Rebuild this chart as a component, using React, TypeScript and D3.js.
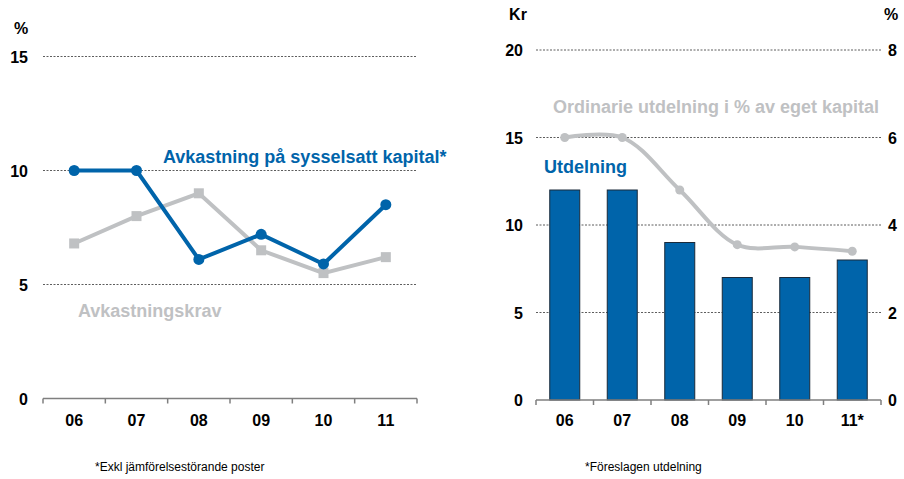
import React from 'react';
import * as d3 from 'd3';

// left chart
const years = ['06', '07', '08', '09', '10', '11'];
const avkastning = [10, 10, 6.1, 7.2, 5.9, 8.5];
const avkastningskrav = [6.8, 8.0, 9.0, 6.5, 5.5, 6.2];
const leftTicks = [0, 5, 10, 15];

// right chart
const yearsRight = ['06', '07', '08', '09', '10', '11*'];
const utdelning = [12, 12, 9, 7, 7, 8];
const ordinarieAndel = [6.0, 6.0, 4.8, 3.55, 3.5, 3.4];
const krTicks = [0, 5, 10, 15, 20];
const pctTicks = [0, 2, 4, 6, 8];

const BLUE = '#0064AA';
const GRAY = '#BFC1C3';
const FONT = '"Liberation Sans", Arial, sans-serif';
const TICK = 16;
const LABEL = 18;

function LeftChart() {
  const x = d3.scaleBand<string>().domain(years).range([43, 417]);
  const y = d3.scaleLinear().domain([0, 15]).range([398.5, 56.5]);
  const cx = (d: string) => (x(d) ?? 0) + x.bandwidth() / 2;
  const line = d3.line<number>()
    .x((_, i) => cx(years[i]))
    .y(d => y(d));
  const edges = years.map(d => x(d) ?? 0).concat([417]);

  return (
    <g>
      <text x={21} y={34} fontSize={TICK} fontWeight="bold" textAnchor="middle">%</text>
      {leftTicks.map(t => (
        <g key={t}>
          {t > 0 && (
            <line x1={43} x2={417} y1={y(t)} y2={y(t)} stroke="#333" strokeWidth={0.8} strokeDasharray="2,1.5" />
          )}
          <text x={28} y={y(t) + 6} fontSize={TICK} fontWeight="bold" textAnchor="end">{t}</text>
        </g>
      ))}
      <line x1={43} x2={417} y1={y(0)} y2={y(0)} stroke="#7f7f7f" strokeWidth={1.5} />
      {edges.map((e, i) => (
        <line key={i} x1={e} x2={e} y1={y(0)} y2={y(0) + 5} stroke="#7f7f7f" strokeWidth={1.5} />
      ))}
      {years.map(d => (
        <text key={d} x={cx(d)} y={426} fontSize={TICK} fontWeight="bold" textAnchor="middle">{d}</text>
      ))}

      <path d={line(avkastningskrav) ?? ''} fill="none" stroke={GRAY} strokeWidth={4} />
      {avkastningskrav.map((v, i) => (
        <rect key={i} x={cx(years[i]) - 5} y={y(v) - 5} width={10} height={10} fill={GRAY} />
      ))}
      <path d={line(avkastning) ?? ''} fill="none" stroke={BLUE} strokeWidth={4} />
      {avkastning.map((v, i) => (
        <circle key={i} cx={cx(years[i])} cy={y(v)} r={5.5} fill={BLUE} />
      ))}

      <text x={163} y={163} fontSize={LABEL} fontWeight="bold" fill={BLUE}>Avkastning på sysselsatt kapital*</text>
      <text x={78} y={317} fontSize={LABEL} fontWeight="bold" fill={GRAY}>Avkastningskrav</text>
      <text x={95} y={471} fontSize={12}>*Exkl jämförelsestörande poster</text>
    </g>
  );
}

function RightChart() {
  const x = d3.scaleBand<string>().domain(yearsRight).range([536, 881]);
  const yKr = d3.scaleLinear().domain([0, 20]).range([400, 50]);
  const yPct = d3.scaleLinear().domain([0, 8]).range([400, 50]);
  const cx = (d: string) => (x(d) ?? 0) + x.bandwidth() / 2;
  const barW = 30;
  const curve = d3.line<number>()
    .x((_, i) => cx(yearsRight[i]))
    .y(d => yPct(d))
    .curve(d3.curveCatmullRom.alpha(0.5));
  const edges = yearsRight.map(d => x(d) ?? 0).concat([881]);

  return (
    <g>
      <text x={518} y={20} fontSize={TICK} fontWeight="bold" textAnchor="middle">Kr</text>
      <text x={891} y={20} fontSize={TICK} fontWeight="bold" textAnchor="middle">%</text>
      {krTicks.map(t => (
        <g key={t}>
          {t > 0 && (
            <line x1={536} x2={881} y1={yKr(t)} y2={yKr(t)} stroke="#333" strokeWidth={0.8} strokeDasharray="2,1.5" />
          )}
          <text x={523} y={yKr(t) + 6} fontSize={TICK} fontWeight="bold" textAnchor="end">{t}</text>
        </g>
      ))}
      {pctTicks.map(t => (
        <text key={t} x={888} y={yPct(t) + 6} fontSize={TICK} fontWeight="bold">{t}</text>
      ))}
      {utdelning.map((v, i) => (
        <rect key={i} x={cx(yearsRight[i]) - barW / 2} y={yKr(v)} width={barW} height={yKr(0) - yKr(v)}
          fill={BLUE} stroke="#1a2a3a" strokeWidth={1} />
      ))}
      <line x1={536} x2={881} y1={yKr(0)} y2={yKr(0)} stroke="#7f7f7f" strokeWidth={1.5} />
      {edges.map((e, i) => (
        <line key={i} x1={e} x2={e} y1={yKr(0)} y2={yKr(0) + 5} stroke="#7f7f7f" strokeWidth={1.5} />
      ))}
      {yearsRight.map(d => (
        <text key={d} x={cx(d)} y={426} fontSize={TICK} fontWeight="bold" textAnchor="middle">{d}</text>
      ))}

      <path d={curve(ordinarieAndel) ?? ''} fill="none" stroke={GRAY} strokeWidth={4} />
      {ordinarieAndel.map((v, i) => (
        <circle key={i} cx={cx(yearsRight[i])} cy={yPct(v)} r={4.5} fill={GRAY} />
      ))}

      <text x={553} y={113} fontSize={LABEL} fontWeight="bold" fill={GRAY}>Ordinarie utdelning i % av eget kapital</text>
      <text x={544} y={173} fontSize={LABEL} fontWeight="bold" fill={BLUE}>Utdelning</text>
      <text x={585} y={471} fontSize={12}>*Föreslagen utdelning</text>
    </g>
  );
}

export default function App() {
  return (
    <svg width={904} height={479} style={{ position: 'absolute', left: 0, top: 0, background: '#fff' }}
      fontFamily={FONT}>
      <LeftChart />
      <RightChart />
    </svg>
  );
}
